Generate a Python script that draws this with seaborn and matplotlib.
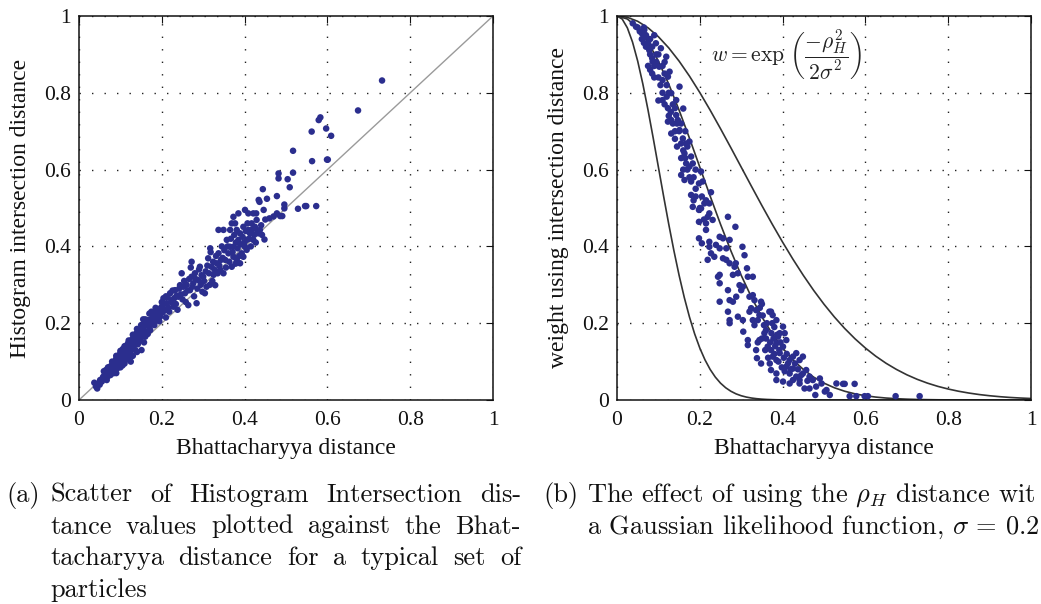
import numpy as np
import pandas as pd
import matplotlib
matplotlib.use("Agg")
import matplotlib.pyplot as plt
import seaborn as sns

# ---------------- data ----------------
# panel (a): (Bhattacharyya distance, Histogram intersection distance)
points_a = [
    (0.037,0.045),(0.041,0.035),(0.044,0.030),(0.047,0.043),(0.051,0.052),(0.050,0.040),(0.055,0.048),(0.058,0.060),(0.060,0.055),(0.062,0.066),
    (0.065,0.078),(0.067,0.052),(0.068,0.070),(0.070,0.062),(0.071,0.069),(0.073,0.080),(0.075,0.087),(0.076,0.065),(0.078,0.075),(0.080,0.092),
    (0.082,0.085),(0.083,0.095),(0.084,0.070),(0.086,0.100),(0.087,0.078),(0.088,0.090),(0.090,0.108),(0.091,0.104),(0.092,0.082),(0.094,0.098),
    (0.095,0.113),(0.096,0.088),(0.098,0.118),(0.099,0.091),(0.100,0.105),(0.101,0.125),(0.103,0.122),(0.104,0.095),(0.105,0.112),(0.106,0.133),
    (0.107,0.130),(0.108,0.100),(0.110,0.120),(0.111,0.113),(0.112,0.140),(0.113,0.128),(0.115,0.139),(0.116,0.108),(0.117,0.145),(0.118,0.125),
    (0.119,0.148),(0.120,0.135),(0.121,0.115),(0.123,0.122),(0.124,0.150),(0.125,0.140),(0.127,0.156),(0.128,0.133),(0.130,0.160),(0.131,0.139),
    (0.133,0.148),(0.135,0.165),(0.136,0.130),(0.138,0.155),(0.139,0.174),(0.140,0.160),(0.142,0.145),(0.143,0.152),(0.145,0.170),(0.147,0.182),
    (0.148,0.160),(0.150,0.175),(0.151,0.130),(0.152,0.190),(0.154,0.168),(0.156,0.187),(0.157,0.150),(0.158,0.200),(0.160,0.165),(0.162,0.178),
    (0.164,0.195),(0.165,0.208),(0.166,0.172),(0.168,0.208),(0.170,0.190),(0.172,0.182),(0.174,0.210),(0.176,0.200),(0.178,0.218),(0.180,0.226),
    (0.182,0.195),(0.184,0.230),(0.186,0.215),(0.188,0.208),(0.190,0.235),(0.192,0.222),(0.194,0.205),(0.196,0.217),(0.198,0.240),(0.200,0.243),
    (0.202,0.228),(0.204,0.265),(0.206,0.250),(0.208,0.234),(0.210,0.215),(0.212,0.252),(0.214,0.268),(0.216,0.240),(0.218,0.230),(0.220,0.278),
    (0.222,0.255),(0.224,0.260),(0.226,0.285),(0.228,0.243),(0.230,0.265),(0.232,0.286),(0.234,0.250),(0.236,0.272),(0.238,0.235),(0.240,0.269),
    (0.242,0.290),(0.244,0.299),(0.246,0.275),(0.248,0.330),(0.250,0.262),(0.252,0.295),(0.254,0.310),(0.256,0.278),(0.258,0.255),(0.260,0.300),
    (0.262,0.285),(0.264,0.247),(0.266,0.315),(0.268,0.286),(0.270,0.345),(0.272,0.360),(0.272,0.321),(0.274,0.295),(0.276,0.304),(0.278,0.270),
    (0.280,0.330),(0.282,0.315),(0.284,0.252),(0.286,0.290),(0.288,0.312),(0.290,0.340),(0.292,0.347),(0.294,0.300),(0.296,0.325),(0.298,0.282),
    (0.300,0.321),(0.302,0.310),(0.304,0.278),(0.306,0.335),(0.308,0.295),(0.310,0.350),(0.312,0.369),(0.314,0.330),(0.316,0.300),(0.317,0.395),
    (0.318,0.385),(0.320,0.347),(0.322,0.310),(0.324,0.360),(0.325,0.326),(0.327,0.340),(0.329,0.299),(0.331,0.375),(0.333,0.356),(0.335,0.330),
    (0.337,0.382),(0.337,0.443),(0.339,0.350),(0.341,0.339),(0.343,0.365),(0.345,0.400),(0.347,0.370),(0.349,0.330),(0.349,0.443),(0.351,0.390),
    (0.353,0.365),(0.355,0.345),(0.357,0.417),(0.359,0.400),(0.361,0.382),(0.363,0.360),(0.365,0.443),(0.365,0.399),(0.367,0.420),(0.369,0.347),
    (0.369,0.460),(0.371,0.385),(0.373,0.399),(0.373,0.477),(0.373,0.373),(0.375,0.430),(0.377,0.460),(0.378,0.355),(0.379,0.410),(0.381,0.365),
    (0.381,0.443),(0.383,0.395),(0.385,0.417),(0.385,0.486),(0.387,0.375),(0.389,0.434),(0.389,0.356),(0.391,0.405),(0.393,0.382),(0.395,0.425),
    (0.397,0.451),(0.397,0.373),(0.399,0.410),(0.401,0.399),(0.401,0.495),(0.403,0.440),(0.405,0.417),(0.405,0.391),(0.407,0.460),(0.409,0.443),
    (0.409,0.486),(0.411,0.420),(0.413,0.434),(0.415,0.400),(0.417,0.460),(0.419,0.445),(0.421,0.417),(0.421,0.486),(0.423,0.430),(0.425,0.451),
    (0.427,0.410),(0.428,0.486),(0.429,0.469),(0.431,0.440),(0.433,0.434),(0.434,0.521),(0.436,0.516),(0.437,0.443),(0.440,0.455),(0.442,0.430),
    (0.444,0.549),(0.446,0.495),(0.448,0.418),(0.450,0.470),(0.454,0.524),(0.460,0.473),(0.470,0.478),(0.478,0.486),(0.478,0.531),(0.482,0.590),
    (0.482,0.577),(0.486,0.479),(0.491,0.479),(0.496,0.499),(0.496,0.509),(0.504,0.575),(0.509,0.554),(0.517,0.649),(0.517,0.592),(0.529,0.498),
    (0.546,0.505),(0.549,0.505),(0.562,0.699),(0.563,0.622),(0.573,0.505),(0.579,0.729),(0.583,0.736),(0.597,0.707),(0.599,0.626),(0.601,0.626),
    (0.609,0.688),(0.674,0.754),(0.732,0.832),
    (0.060,0.075),(0.070,0.085),(0.080,0.100),(0.090,0.115),(0.100,0.128),(0.110,0.140),(0.120,0.155),(0.130,0.170),(0.140,0.185),(0.150,0.195),
    (0.160,0.210),(0.170,0.225),(0.185,0.240),(0.200,0.255),(0.210,0.270),(0.155,0.210),(0.165,0.200),(0.175,0.230),(0.090,0.070),(0.100,0.085),
    (0.110,0.095),(0.120,0.105),(0.130,0.115),(0.140,0.125),(0.105,0.090),(0.125,0.100),
]

# panel (b): (Bhattacharyya distance, weight using intersection distance)
points_b = [
    (0.038,0.981),(0.046,0.972),(0.050,0.970),(0.055,0.960),(0.060,0.955),(0.065,0.970),(0.066,0.964),(0.060,0.940),(0.065,0.930),(0.070,0.946),
    (0.070,0.950),(0.070,0.920),(0.075,0.930),(0.078,0.911),(0.080,0.940),(0.080,0.900),(0.085,0.920),(0.085,0.890),(0.086,0.881),(0.090,0.950),
    (0.090,0.870),(0.094,0.929),(0.095,0.900),(0.075,0.870),(0.080,0.860),(0.085,0.850),(0.090,0.840),(0.095,0.880),(0.100,0.840),(0.102,0.868),
    (0.105,0.820),(0.106,0.916),(0.100,0.780),(0.110,0.800),(0.110,0.833),(0.110,0.870),(0.110,0.781),(0.115,0.850),(0.115,0.770),(0.119,0.894),
    (0.120,0.820),(0.120,0.790),(0.123,0.842),(0.123,0.760),(0.123,0.725),(0.125,0.740),(0.127,0.855),(0.130,0.750),(0.131,0.799),(0.131,0.729),
    (0.131,0.694),(0.135,0.770),(0.140,0.700),(0.140,0.680),(0.143,0.781),(0.143,0.742),(0.145,0.660),(0.147,0.729),(0.150,0.700),(0.151,0.816),
    (0.151,0.703),(0.155,0.720),(0.155,0.668),(0.155,0.630),(0.155,0.586),(0.159,0.681),(0.160,0.759),(0.160,0.650),(0.160,0.600),(0.163,0.642),
    (0.163,0.573),(0.165,0.630),(0.167,0.668),(0.167,0.616),(0.170,0.600),(0.175,0.673),(0.175,0.608),(0.175,0.580),(0.179,0.634),(0.179,0.569),
    (0.179,0.534),(0.183,0.616),(0.183,0.503),(0.185,0.520),(0.190,0.550),(0.190,0.530),(0.198,0.564),(0.198,0.495),(0.198,0.464),(0.198,0.421),
    (0.200,0.500),(0.203,0.595),(0.203,0.499),(0.205,0.530),(0.205,0.408),(0.207,0.569),(0.210,0.470),(0.211,0.512),(0.215,0.520),(0.215,0.460),
    (0.215,0.443),(0.219,0.477),(0.219,0.365),(0.223,0.512),(0.223,0.486),(0.223,0.412),(0.223,0.399),(0.227,0.541),(0.227,0.382),(0.231,0.469),
    (0.235,0.373),(0.239,0.404),(0.244,0.321),(0.248,0.425),(0.248,0.395),(0.248,0.326),(0.248,0.304),(0.248,0.256),(0.256,0.421),(0.256,0.369),
    (0.264,0.395),(0.264,0.365),(0.268,0.477),(0.268,0.286),(0.268,0.230),(0.272,0.417),(0.272,0.356),(0.272,0.260),(0.272,0.208),(0.272,0.200),
    (0.280,0.326),(0.280,0.256),(0.284,0.347),(0.286,0.451),(0.287,0.356),(0.288,0.269),(0.292,0.330),(0.292,0.217),(0.296,0.299),(0.300,0.286),
    (0.303,0.399),(0.304,0.295),(0.304,0.208),(0.305,0.178),(0.308,0.377),(0.314,0.343),(0.316,0.321),(0.316,0.156),(0.316,0.143),(0.320,0.269),
    (0.320,0.230),(0.324,0.239),(0.328,0.321),(0.328,0.273),(0.328,0.208),(0.332,0.260),(0.332,0.195),(0.336,0.234),(0.336,0.130),(0.338,0.109),
    (0.340,0.208),(0.340,0.150),(0.344,0.221),(0.344,0.156),(0.345,0.240),(0.348,0.256),(0.348,0.095),(0.350,0.250),(0.350,0.160),(0.352,0.220),
    (0.355,0.195),(0.356,0.174),(0.358,0.130),(0.360,0.182),(0.360,0.160),(0.362,0.200),(0.364,0.139),(0.365,0.110),(0.368,0.230),(0.369,0.095),
    (0.370,0.150),(0.372,0.230),(0.372,0.130),(0.372,0.078),(0.373,0.174),(0.375,0.200),(0.376,0.221),(0.376,0.113),(0.378,0.160),(0.380,0.120),
    (0.380,0.190),(0.382,0.140),(0.385,0.208),(0.385,0.148),(0.385,0.104),(0.385,0.069),(0.385,0.052),(0.387,0.170),(0.389,0.165),(0.390,0.100),
    (0.392,0.130),(0.393,0.174),(0.393,0.122),(0.395,0.150),(0.398,0.085),(0.401,0.191),(0.401,0.139),(0.401,0.048),(0.403,0.110),(0.405,0.174),
    (0.405,0.075),(0.409,0.156),(0.409,0.087),(0.410,0.120),(0.413,0.095),(0.417,0.104),(0.417,0.069),(0.417,0.043),(0.420,0.080),(0.425,0.113),
    (0.425,0.082),(0.425,0.052),(0.430,0.095),(0.433,0.122),(0.433,0.061),(0.437,0.080),(0.441,0.104),(0.441,0.052),(0.441,0.043),(0.445,0.065),
    (0.449,0.113),(0.449,0.069),(0.453,0.030),(0.457,0.078),(0.460,0.050),(0.465,0.061),(0.465,0.030),(0.473,0.052),(0.479,0.013),(0.481,0.035),
    (0.490,0.056),(0.494,0.043),(0.502,0.022),(0.506,0.026),(0.514,0.013),(0.530,0.043),(0.546,0.042),(0.550,0.042),(0.562,0.010),(0.574,0.042),
    (0.578,0.010),(0.598,0.010),(0.606,0.010),(0.673,0.010),(0.731,0.010),
    (0.100,0.900),(0.115,0.880),(0.125,0.800),(0.135,0.720),(0.140,0.760),(0.145,0.720),(0.165,0.700),(0.170,0.660),(0.185,0.580),(0.190,0.600),
]

# reference diagonal in panel (a)
diag_x = [0.0, 1.0]
diag_y = [0.0, 1.0]

# likelihood curves in panel (b)
curve_x = np.linspace(0, 1, 41)          # step 0.025
curve_mid = [1.0, 0.9922, 0.9692, 0.9321, 0.8825, 0.8226, 0.7548, 0.6819, 0.6065, 0.5311,
             0.4578, 0.3886, 0.3247, 0.2671, 0.2163, 0.1724, 0.1353, 0.1046, 0.0796, 0.0596,
             0.0439, 0.0319, 0.0228, 0.0160, 0.0111, 0.0076, 0.0051, 0.0034, 0.0022, 0.0014,
             0.0009, 0.00055, 0.00034, 0.0002, 0.0001, 0.0001, 0.0, 0.0, 0.0, 0.0, 0.0]
curve_outer = [1.0, 0.9965, 0.9862, 0.9692, 0.9460, 0.9169, 0.8825, 0.8435, 0.8007, 0.7548,
               0.7066, 0.6570, 0.6065, 0.5561, 0.5063, 0.4578, 0.4111, 0.3666, 0.3247, 0.2855,
               0.2494, 0.2163, 0.1863, 0.1593, 0.1353, 0.1141, 0.0956, 0.0796, 0.0657, 0.0539,
               0.0439, 0.0355, 0.0286, 0.0228, 0.0181, 0.0142, 0.0111, 0.0086, 0.0066, 0.0051, 0.0039]
inner_x = list(np.linspace(0, 0.5, 41)) + [1.0]   # step 0.0125
curve_inner = curve_mid + [0.0]

ticks = [0, 0.2, 0.4, 0.6, 0.8, 1]
tick_labels = ["0", "0.2", "0.4", "0.6", "0.8", "1"]

xlabel = "Bhattacharyya distance"
ylabel_a = "Histogram intersection distance"
ylabel_b = "weight using intersection distance"
formula = r"$w = \exp\,\left(\dfrac{-\rho_H^2}{2\sigma^2}\right)$"

# ---------------- style ----------------
sns.set_theme(style="white")
plt.rcParams["font.family"] = ["Liberation Serif", "DejaVu Serif"]
plt.rcParams["mathtext.fontset"] = "cm"

DOT = "#2b2e8e"
W, H = 1041, 604
fig = plt.figure(figsize=(W / 100, H / 100), dpi=100)
fig.patch.set_facecolor("white")

ax_a = fig.add_axes([79 / W, 204 / H, 414 / W, 384 / H])
ax_b = fig.add_axes([617 / W, 204 / H, 414 / W, 384 / H])

df_a = pd.DataFrame(points_a, columns=["bhat", "hist"])
df_b = pd.DataFrame(points_b, columns=["bhat", "weight"])

# panel (a)
sns.lineplot(x=diag_x, y=diag_y, ax=ax_a, color="#9a9a9a", linewidth=1.0,
             estimator=None, sort=False, zorder=2)
sns.scatterplot(data=df_a, x="bhat", y="hist", ax=ax_a, color=DOT, s=22,
                edgecolor="none", linewidth=0, zorder=3)

# panel (b)
for cx, cy in [(inner_x, curve_inner), (curve_x, curve_mid), (curve_x, curve_outer)]:
    sns.lineplot(x=cx, y=cy, ax=ax_b, color="#333333", linewidth=1.2,
                 estimator=None, sort=False, zorder=2)
sns.scatterplot(data=df_b, x="bhat", y="weight", ax=ax_b, color=DOT, s=22,
                edgecolor="none", linewidth=0, zorder=3)
ax_b.text(0.41, 0.9, formula, fontsize=15.5, ha="center", va="center", color="#222222")

for ax, yl in [(ax_a, ylabel_a), (ax_b, ylabel_b)]:
    ax.set_xlim(0, 1)
    ax.set_ylim(0, 1)
    ax.set_xticks(ticks)
    ax.set_yticks(ticks)
    ax.set_xticklabels(tick_labels)
    ax.set_yticklabels(tick_labels)
    ax.tick_params(direction="in", length=5, width=0.8, top=True, right=True,
                   labelsize=15.5, colors="#111111")
    ax.tick_params(axis="x", pad=8)
    ax.tick_params(axis="y", pad=6)
    ax.grid(True, color="#222222", linestyle=(0, (1, 8)), linewidth=1.0)
    ax.set_axisbelow(True)
    for s in ax.spines.values():
        s.set_visible(True)
        s.set_color("#111111")
        s.set_linewidth(1.1)
    ax.set_xlabel(xlabel, fontsize=17, labelpad=6, color="#111111")
    ax.set_ylabel(yl, fontsize=17, labelpad=9, color="#111111")

# ---------------- captions ----------------
CAP = dict(fontsize=19, family=["cmr10"], color="#111111", va="baseline")
renderer = fig.canvas.get_renderer()


def fy(px):
    return 1 - px / H


def justify(words, x0, x1, ypx):
    texts = [fig.text(0, fy(ypx), w, **CAP) for w in words]
    widths = [t.get_window_extent(renderer).width for t in texts]
    gap = ((x1 - x0) - sum(widths)) / (len(words) - 1)
    x = x0
    for t, w in zip(texts, widths):
        t.set_x(x / W)
        x += w + gap


def plain(s, x0, ypx):
    fig.text(x0 / W, fy(ypx), s, **CAP)


cap_a = [
    "Scatter of Histogram Intersection dis-",
    "tance values plotted against the Bhat-",
    "tacharyya distance for a typical set of",
]
# caption (b) as far as it is visible in the reference (it runs past the edge there)
cap_b = [
    r"The effect of using the $\rho_H$ distance wit",
    r"a Gaussian likelihood function, $\sigma$ = 0.2",
]
base = [502, 533.5, 565, 596.5]
plain("(a)", 6, base[0])
for i, line in enumerate(cap_a):
    justify(line.split(" "), 50, 521, base[i])
plain("particles", 50, base[3])

plain("(b)", 543, base[0])
plain(cap_b[0], 587, base[0])
plain(cap_b[1], 587, base[1])

fig.savefig("out.png", dpi=100, facecolor="white")
